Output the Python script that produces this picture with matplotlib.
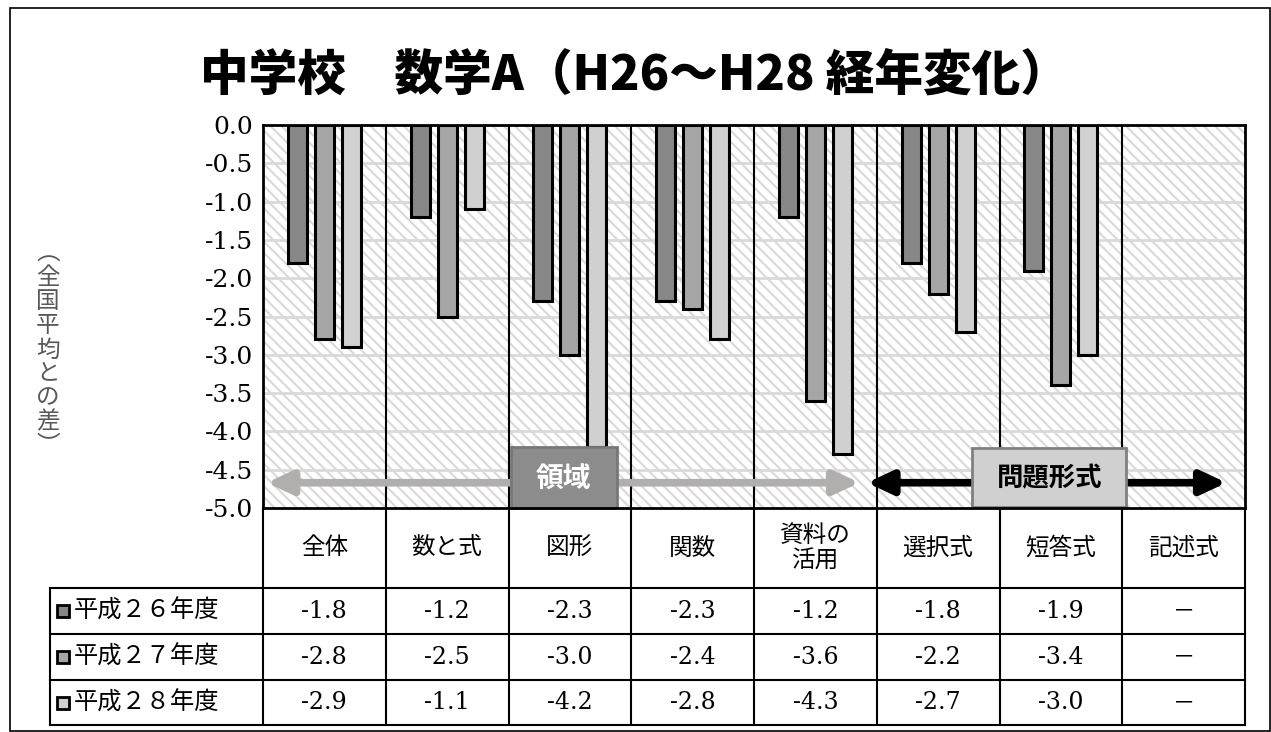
import matplotlib
matplotlib.use("Agg")
import matplotlib.pyplot as plt
from matplotlib.patches import Rectangle, FancyArrowPatch
import numpy as np

plt.rcParams['font.family'] = ['Noto Sans CJK JP', 'DejaVu Sans']
plt.rcParams['hatch.color'] = '#d9d9d9'
plt.rcParams['hatch.linewidth'] = 1.5

title = "中学校　数学A（H26～H28 経年変化）"
categories = ["全体", "数と式", "図形", "関数", "資料の\n活用", "選択式", "短答式", "記述式"]
series_names = ["平成２６年度", "平成２７年度", "平成２８年度"]
h26 = [-1.8, -1.2, -2.3, -2.3, -1.2, -1.8, -1.9, None]
h27 = [-2.8, -2.5, -3.0, -2.4, -3.6, -2.2, -3.4, None]
h28 = [-2.9, -1.1, -4.2, -2.8, -4.3, -2.7, -3.0, None]
series = [h26, h27, h28]
colors = ["#878787", "#a6a6a6", "#d0d0d0"]
yticks = np.arange(0, -5.01, -0.5)
ylabel_chars = list("︵全国平均との差︶")
group_labels = ["領域", "問題形式"]

W, H = 1271, 732
fig = plt.figure(figsize=(W / 100, H / 100), dpi=100)

# plot area in pixel coords
px0, px1, py0, py1 = 263, 1245, 125, 508
ax = fig.add_axes([px0 / W, 1 - py1 / H, (px1 - px0) / W, (py1 - py0) / H])
n = len(categories)
ax.set_xlim(0, n)
ax.set_ylim(-5.0, 0.0)

# hatched background
bg = Rectangle((0, -5), n, 5, facecolor='white', edgecolor='#d9d9d9', lw=0,
               hatch='\\\\\\', zorder=0)
ax.add_patch(bg)
for yv in yticks[1:-1]:
    ax.axhline(yv, color='#d9d9d9', lw=2, zorder=1)
for i in range(1, n):
    ax.axvline(i, color='black', lw=1.5, zorder=1)

offsets = [-0.22, 0.0, 0.22]
bw = 0.155
for s, (vals, c, off) in enumerate(zip(series, colors, offsets)):
    xs = [i + 0.5 + off for i, v in enumerate(vals) if v is not None]
    ys = [v for v in vals if v is not None]
    ax.bar(xs, ys, width=bw, color=c, edgecolor='black', linewidth=2.2, zorder=3)

ax.set_yticks(yticks)
ax.set_yticklabels([f"{v:.1f}" if v != 0 else "0.0" for v in yticks],
                   fontfamily='DejaVu Serif', fontsize=18)
ax.tick_params(axis='y', length=0, pad=7)
ax.set_xticks([])
for sp in ax.spines.values():
    sp.set_linewidth(2)
    sp.set_zorder(6)

# arrows
yarr = -4.67
astyle = '<|-|>,head_length=1.5,head_width=0.7'
a1 = FancyArrowPatch((0.03, yarr), (4.86, yarr), arrowstyle=astyle,
                     mutation_scale=10, color='#b1aeae', lw=5.5, zorder=4, shrinkA=0, shrinkB=0)
ax.add_patch(a1)
a2 = FancyArrowPatch((4.92, yarr), (7.85, yarr), arrowstyle=astyle,
                     mutation_scale=10, color='black', lw=5.5, zorder=4, shrinkA=0, shrinkB=0)
ax.add_patch(a2)
b1 = Rectangle((2.02, -5.0), 0.86, 0.80, facecolor='#8c8c8c', edgecolor='#777777', lw=2,
               zorder=5, clip_on=False)
ax.add_patch(b1)
ax.text(2.45, -4.62, group_labels[0], color='white', fontsize=20, fontweight='bold',
        ha='center', va='center', zorder=6)
b2 = Rectangle((5.78, -4.99), 1.25, 0.77, facecolor='#d0d0d0', edgecolor='#808080', lw=2,
               zorder=5, clip_on=False)
ax.add_patch(b2)
ax.text(6.405, -4.62, group_labels[1], color='black', fontsize=19, fontweight='bold',
        ha='center', va='center', zorder=6)

# overlay axes in pixel coordinates for table, title, border
ov = fig.add_axes([0, 0, 1, 1], zorder=-1)
ov.set_xlim(0, W)
ov.set_ylim(H, 0)
ov.axis('off')
ov.add_patch(Rectangle((10, 8), W - 11, H - 9, fill=False, edgecolor='black', lw=1.2))

ov.text(634, 75, title, fontsize=35, fontweight='heavy', ha='center', va='center')

# y label vertical
for k, ch in enumerate(ylabel_chars):
    ov.text(48, 254 + k * 24, ch, fontsize=17, color='#595959', ha='center', va='center')

colw = (px1 - px0) / n
xedges = [px0 + i * colw for i in range(n + 1)]
hy0, hy1 = 508, 588
rows = [588, 634, 680, 725]
lx = 50
# lines
for xe in xedges:
    ov.plot([xe, xe], [hy0, rows[-1]], color='black', lw=1.5)
ov.plot([lx, lx], [rows[0], rows[-1]], color='black', lw=1.5)
for r in rows:
    ov.plot([lx, px1], [r, r], color='black', lw=1.5)

for i, cat in enumerate(categories):
    cx = px0 + (i + 0.5) * colw
    ov.text(cx, (hy0 + hy1) / 2, cat, fontsize=17, ha='center', va='center', linespacing=1.15)
    for s, vals in enumerate(series):
        cy = (rows[s] + rows[s + 1]) / 2
        v = vals[i]
        if v is None:
            ov.text(cx, cy, "－", fontsize=16, ha='center', va='center')
        else:
            ov.text(cx, cy, f"{v:.1f}", fontsize=17, fontfamily='DejaVu Serif',
                    ha='center', va='center')

for s, name in enumerate(series_names):
    cy = (rows[s] + rows[s + 1]) / 2
    ov.add_patch(Rectangle((57, cy - 6), 12, 12, facecolor=colors[s], edgecolor='black', lw=2))
    ov.text(74, cy, name, fontsize=17.5, ha='left', va='center')

fig.savefig("out.png", dpi=100)
